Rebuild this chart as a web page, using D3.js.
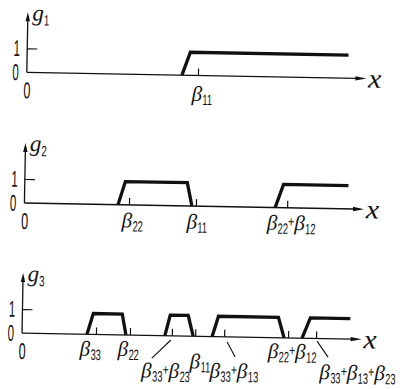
<!DOCTYPE html>
<html>
<head>
<meta charset="utf-8">
<script src="https://cdn.jsdelivr.net/npm/d3@7"></script>
<style>
  body { margin: 0; background: #fff; }
  text { fill: #111; }
  .num { font-family: 'Liberation Sans', Arial, sans-serif; font-size: 23px; }
  .beta { font-family: 'Liberation Serif', 'DejaVu Serif', serif; font-style: italic; font-size: 21px; }
  .sub { font-family: 'Liberation Sans', Arial, sans-serif; font-size: 15px; }
  .plus { font-family: 'Liberation Sans', Arial, sans-serif; font-size: 15px; }
  .var { font-family: 'Liberation Serif', 'DejaVu Serif', serif; font-style: italic; font-size: 23px; }
  .xvar { font-family: 'Liberation Serif', 'DejaVu Serif', serif; font-style: italic; font-size: 27px; }
</style>
</head>
<body>
<div id="chart"></div>
<script>
// values, x in arbitrary units 0..100
const g1Ticks = [51.4]
const g1Labels = ['β11']
const g1Curves = [[[46.6, 0], [49.0, 0.96], [96.5, 0.96]]]

const g2Ticks = [31.4, 51.5, 78.9]
const g2Labels = ['β22', 'β11', 'β22+β12']
const g2Curves = [
  [[28.1, 0], [30.2, 0.97], [48.8, 0.97], [50.3, 0]],
  [[75.3, 0], [77.7, 0.97], [97.2, 0.97]]
]

const g3Ticks = [22.2, 32.4, 45.0, 52.0, 60.7, 79.9, 88.3]
const g3Labels = ['β33', 'β22', 'β33+β23', 'β11', 'β33+β13', 'β22+β12', 'β33+β13+β23']
const g3Curves = [
  [[19.5, 0], [21.3, 0.87], [30.0, 0.87], [31.2, 0]],
  [[42.9, 0], [44.4, 0.86], [49.8, 0.86], [51.4, 0]],
  [[57.1, 0], [58.9, 0.85], [76.9, 0.85], [78.7, 0]],
  [[84.1, 0], [86.5, 0.85], [98.5, 0.85]]
]

const yNames = ['1', '2', '3']

// layout (the scan is turned by about a degree, so the whole drawing is too)
const width = 403
const height = 389
const tilt = 1.05

const panels = [
  { base: 75.5, ticks: g1Ticks, labels: g1Labels, curves: g1Curves,
    labelPos: [[-6, 25.5]], leaders: [null] },
  { base: 206.2, ticks: g2Ticks, labels: g2Labels, curves: g2Curves,
    labelPos: [[-7, 22.5], [-9, 22.5], [-20, 22]], leaders: [null, null, null] },
  { base: 336.3, ticks: g3Ticks, labels: g3Labels, curves: g3Curves,
    labelPos: [[-16, 21.5], [-12, 21], [-30, 42], [-5, 32], [-14, 41], [-20, 20.5], [4, 40.5]],
    leaders: [null, null, [[-19.6, 22.6], [-0.9, 4.2]], null, [[11.4, 20.1], [3.1, 5.2]], null, [[12.4, 18.4], [1.1, 2.6]]] }
]

const svg = d3
  .select('#chart')
  .append('svg')
  .attr('width', width)
  .attr('height', height)
  .style('background', '#fff')

const root = svg.append('g')
  .attr('transform', `rotate(${tilt},200,200)`)

const xScale = d3
  .scaleLinear()
  .domain([0, 100])
  .range([24.5, 357.5])

// one piece of text, squeezed horizontally like the narrow typeface of the scan
function piece(g, str, cls, x, y, sx) {
  const t = g.append('text')
    .attr('class', cls)
    .attr('transform', `translate(${x},${y}) scale(${sx},1)`)
    .text(str)
  return t.node().getComputedTextLength() * sx
}

function betaLabel(g, str, x, y) {
  let cx = x
  str.split('+').forEach((term, i) => {
    if (i > 0) cx += piece(g, '+', 'plus', cx, y - 3, 0.7)
    cx += piece(g, term[0], 'beta', cx, y, 1) + 0.5
    cx += piece(g, term.slice(1), 'sub', cx, y + 4, 0.62)
  })
}

panels.forEach((p, pi) => {
  const yScale = d3
    .scaleLinear()
    .domain([0, 1])
    .range([p.base, p.base - 24])

  const g = root.append('g')

  // y axis with arrow
  const top = p.base - 60
  g.append('line')
    .attr('x1', xScale(0)).attr('x2', xScale(0))
    .attr('y1', p.base).attr('y2', top + 4)
    .attr('stroke', '#111').attr('stroke-width', 1.3)
  g.append('path')
    .attr('d', `M${xScale(0)},${top} l-2.2,9 l4.4,0 z`)
    .attr('fill', '#111')

  const yAxis = g.append('g')
    .attr('transform', `translate(${xScale(0)},0)`)
    .call(d3.axisRight(yScale).tickValues([1]).tickSize(10).tickSizeOuter(0).tickFormat(''))
  yAxis.select('.domain').remove()
  yAxis.selectAll('line').attr('stroke', '#111').attr('stroke-width', 1.2)

  piece(g, '1', 'num', 11, yScale(1) + 8, 0.5)
  piece(g, '0', 'num', 10, yScale(0) + 8, 0.5)
  piece(g, '0', 'num', 21.5, p.base + 26, 0.55)

  // g label
  const gx = 29
  const gw = piece(g, 'g', 'var', gx, p.base - 52, 1)
  piece(g, yNames[pi], 'sub', gx + gw, p.base - 47, 0.65)

  // x axis, ticks and curves
  const xAxis = g.append('g')
    .attr('transform', `translate(0,${p.base})`)
    .call(d3.axisTop(xScale).tickValues(p.ticks).tickSize(7).tickSizeOuter(0).tickFormat(''))
  xAxis.select('.domain').attr('stroke', '#111').attr('stroke-width', 1.3)
    .attr('d', `M${xScale(0)},0H${xScale(99)}`)
  xAxis.selectAll('line').attr('stroke', '#111').attr('stroke-width', 1.2)
  g.append('path')
    .attr('d', `M${xScale(102)},${p.base} l-11,-2.2 l0,4.4 z`)
    .attr('fill', '#111')

  const line = d3.line()
    .x(d => xScale(d[0]))
    .y(d => yScale(d[1]))

  g.selectAll('.curve')
    .data(p.curves)
    .enter()
    .append('path')
    .attr('class', 'curve')
    .attr('d', line)
    .attr('fill', 'none')
    .attr('stroke', '#111')
    .attr('stroke-width', 3.3)
    .attr('stroke-linejoin', 'miter')

  // x label
  piece(g, 'x', 'xvar', 366, p.base + 9, 1.1)

  // beta labels
  p.ticks.forEach((t, i) => {
    const [dx, dy] = p.labelPos[i]
    betaLabel(g, p.labels[i], xScale(t) + dx, p.base + dy)
    const ld = p.leaders[i]
    if (ld) {
      g.append('line')
        .attr('x1', xScale(t) + ld[0][0]).attr('y1', p.base + ld[0][1])
        .attr('x2', xScale(t) + ld[1][0]).attr('y2', p.base + ld[1][1])
        .attr('stroke', '#111').attr('stroke-width', 1.1)
    }
  })
})
</script>
</body>
</html>
